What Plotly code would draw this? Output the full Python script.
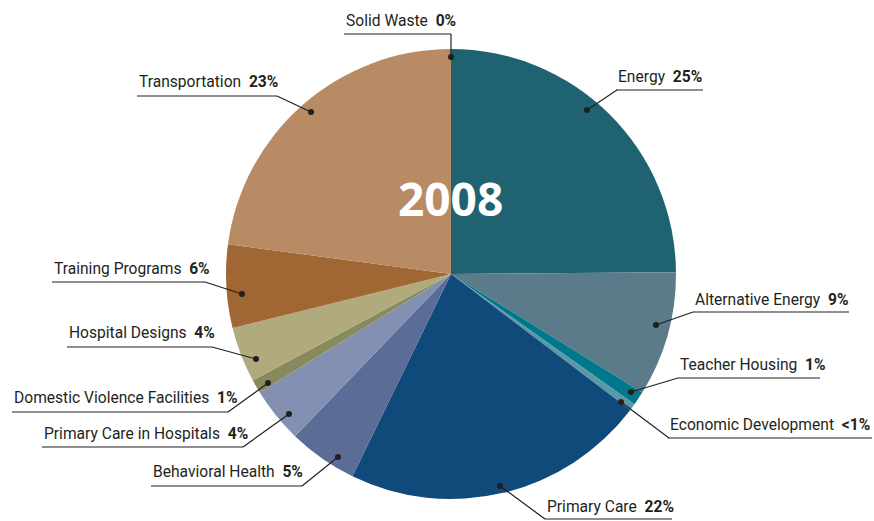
import plotly.graph_objects as go

# ---- data ----
categories = ["Energy", "Alternative Energy", "Teacher Housing", "Economic Development",
              "Primary Care", "Behavioral Health", "Primary Care in Hospitals",
              "Domestic Violence Facilities", "Hospital Designs", "Training Programs",
              "Transportation", "Solid Waste"]
values = [25, 9, 1, 0.5, 22, 5, 4, 1, 4, 6, 23, 0]
value_labels = ["25%", "9%", "1%", "<1%", "22%", "5%", "4%", "1%", "4%", "6%", "23%", "0%"]
year_label = "2008"

colors = ["#1f6373", "#5b7b8b", "#00788b", "#5a98a8", "#0f4a7a", "#5b6c97",
          "#8390b1", "#878a5c", "#b1aa7d", "#a06734", "#b98b65", "#b98b65"]

W, H = 874, 521
FONT = "Roboto, Liberation Sans Narrow, sans-serif"
TXT = "#231f20"

# label layout (pixels): text left x, text center y, underline y, underline right x,
# elbow end (where leader meets underline) and dot position
label_layout = {
    "Solid Waste":                  dict(tx=344, ty=21,  uy=34,  ux2=451, ex=451, dot=(451, 57)),
    "Energy":                       dict(tx=616, ty=77,  uy=90,  ux2=703, ex=617, dot=(587, 110)),
    "Alternative Energy":           dict(tx=693, ty=300, uy=312, ux2=849, ex=693, dot=(656, 325)),
    "Teacher Housing":              dict(tx=678, ty=365, uy=378, ux2=820, ex=678, dot=(631, 392)),
    "Economic Development":         dict(tx=668, ty=425, uy=438, ux2=872, ex=669, dot=(621, 402)),
    "Primary Care":                 dict(tx=545, ty=507, uy=519, ux2=672, ex=545, dot=(500, 486)),
    "Behavioral Health":            dict(tx=151, ty=472, uy=486, ux2=302, ex=302, dot=(338, 457)),
    "Primary Care in Hospitals":    dict(tx=42,  ty=434, uy=447, ux2=243, ex=243, dot=(289, 414)),
    "Domestic Violence Facilities": dict(tx=12,  ty=398, uy=412, ux2=228, ex=228, dot=(268, 383)),
    "Hospital Designs":             dict(tx=67,  ty=333, uy=347, ux2=212, ex=212, dot=(256, 359)),
    "Training Programs":            dict(tx=52,  ty=269, uy=282, ux2=205, ex=205, dot=(242, 294)),
    "Transportation":               dict(tx=137, ty=82,  uy=96,  ux2=277, ex=277, dot=(311, 112)),
}

def px(x):
    return x / W

def py(y):
    return 1 - y / H

cx, cy, r = 451, 274, 225

fig = go.Figure(go.Pie(
    labels=categories,
    values=values,
    marker=dict(colors=colors, line=dict(width=0)),
    sort=False,
    direction="clockwise",
    rotation=0,
    textinfo="none",
    hoverinfo="label+value",
    showlegend=False,
    domain=dict(x=[px(cx - r), px(cx + r)], y=[py(cy + r), py(cy - r)]),
))

shapes = []
annotations = []
for cat, vl in zip(categories, value_labels):
    L = label_layout[cat]
    shapes.append(dict(type="line", xref="paper", yref="paper",
                       x0=px(L["tx"]), x1=px(L["ux2"]), y0=py(L["uy"]), y1=py(L["uy"]),
                       line=dict(color=TXT, width=1.2)))
    dx, dy = L["dot"]
    shapes.append(dict(type="line", xref="paper", yref="paper",
                       x0=px(L["ex"]), y0=py(L["uy"]), x1=px(dx), y1=py(dy),
                       line=dict(color=TXT, width=1.2)))
    shapes.append(dict(type="circle", xref="paper", yref="paper",
                       x0=px(dx - 3), x1=px(dx + 3), y0=py(dy + 3), y1=py(dy - 3),
                       fillcolor=TXT, line=dict(width=0)))
    annotations.append(dict(
        x=px(L["tx"]), y=py(L["ty"]), xref="paper", yref="paper",
        xanchor="left", yanchor="middle", showarrow=False,
        text=f"{cat}  <b>{vl.replace('<', '&lt;')}</b>",
        font=dict(family=FONT, size=15.6, color=TXT),
    ))

annotations.append(dict(
    x=px(451), y=py(198), xref="paper", yref="paper",
    xanchor="center", yanchor="middle", showarrow=False,
    text=f"<b>{year_label}</b>",
    font=dict(family="Open Sans, sans-serif", size=46, color="white"),
))

fig.update_layout(
    width=W, height=H,
    margin=dict(l=0, r=0, t=0, b=0),
    paper_bgcolor="white",
    plot_bgcolor="white",
    shapes=shapes,
    annotations=annotations,
)

fig.write_html("out.html", config={"displayModeBar": False},
               post_script="document.body.style.margin='0';")
